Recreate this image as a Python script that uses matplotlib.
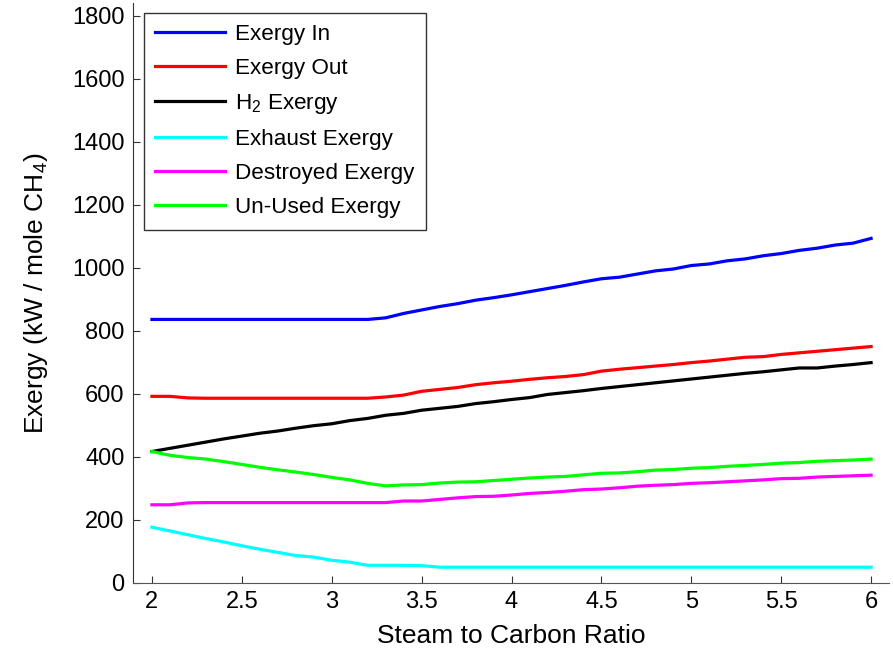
import numpy as np
import matplotlib
matplotlib.use("Agg")
import matplotlib.pyplot as plt

plt.rcParams['font.family'] = ['Liberation Sans', 'DejaVu Sans']
plt.rcParams['mathtext.fontset'] = 'custom'
plt.rcParams['mathtext.rm'] = 'Liberation Sans'
plt.rcParams['mathtext.it'] = 'Liberation Sans'

# steam to carbon ratio, 2.0 .. 6.0
ratio = [2.0, 2.1, 2.2, 2.3, 2.4, 2.5, 2.6, 2.7, 2.8, 2.9, 3.0,
         3.1, 3.2, 3.3, 3.4, 3.5, 3.6, 3.7, 3.8, 3.9, 4.0,
         4.1, 4.2, 4.3, 4.4, 4.5, 4.6, 4.7, 4.8, 4.9, 5.0,
         5.1, 5.2, 5.3, 5.4, 5.5, 5.6, 5.7, 5.8, 5.9, 6.0]

exergy_in = [836, 836, 836, 836, 836, 836, 836, 836, 836, 836, 836,
             836, 836, 841, 855, 866, 877, 886, 897, 905, 914,
             924, 934, 944, 955, 965, 970, 980, 990, 996, 1007,
             1012, 1022, 1028, 1038, 1045, 1055, 1062, 1072, 1078, 1093]

exergy_out = [592, 592, 587, 586, 586, 586, 586, 586, 586, 586, 586,
              586, 586, 590, 596, 608, 614, 620, 629, 635, 640,
              646, 651, 655, 661, 672, 678, 683, 688, 693, 699,
              704, 710, 716, 718, 725, 730, 735, 740, 745, 750]

h2_exergy = [417, 427, 437, 447, 457, 466, 475, 482, 491, 499, 505,
             515, 522, 532, 538, 548, 554, 560, 569, 575, 582,
             588, 598, 604, 610, 617, 623, 629, 635, 641, 647,
             653, 659, 665, 670, 676, 682, 682, 688, 693, 699]

exhaust = [177, 165, 153, 141, 130, 118, 107, 97, 87, 82, 72,
           66, 56, 56, 56, 55, 50, 50, 50, 50, 50,
           50, 50, 50, 50, 50, 50, 50, 50, 50, 50,
           50, 50, 50, 50, 50, 50, 50, 50, 50, 50]

destroyed = [248, 248, 254, 255, 255, 255, 255, 255, 255, 255, 255,
             255, 255, 255, 260, 260, 265, 270, 274, 275, 279,
             284, 287, 291, 296, 298, 302, 307, 310, 312, 316,
             318, 321, 324, 327, 331, 332, 336, 338, 340, 342]

unused = [417, 405, 398, 393, 385, 376, 367, 359, 352, 344, 335,
          327, 316, 308, 311, 312, 317, 320, 321, 325, 329,
          333, 336, 338, 343, 348, 349, 353, 358, 360, 364,
          366, 370, 373, 376, 380, 382, 386, 388, 390, 393]

fig = plt.figure(figsize=(8.93, 6.51), dpi=100)
ax = fig.add_axes([0.149, 0.1045, 0.8466, 0.891])

lw = 2.3
ax.plot(ratio, exergy_in, color='#0000ff', lw=lw, label='Exergy In')
ax.plot(ratio, exergy_out, color='#ff0000', lw=lw, label='Exergy Out')
ax.plot(ratio, h2_exergy, color='black', lw=lw, label='H$_2$ Exergy')
ax.plot(ratio, exhaust, color='#00ffff', lw=lw, label='Exhaust Exergy')
ax.plot(ratio, destroyed, color='#ff00ff', lw=lw, label='Destroyed Exergy')
ax.plot(ratio, unused, color='#00ff00', lw=lw, label='Un-Used Exergy')

ax.set_xlim(1.895, 6.1)
ax.set_ylim(0, 1840)
ax.set_xticks([2, 2.5, 3, 3.5, 4, 4.5, 5, 5.5, 6])
ax.set_xticklabels(['2', '2.5', '3', '3.5', '4', '4.5', '5', '5.5', '6'])
ax.set_yticks(np.arange(0, 1801, 200))

ax.spines['top'].set_visible(False)
ax.spines['right'].set_visible(False)
ax.spines['left'].set_color('#333333')
ax.spines['bottom'].set_color('#555555')
ax.tick_params(direction='in', length=5, width=0.8, labelsize=17,
               colors='#333333', labelcolor='black', pad=6)

ax.set_xlabel('Steam to Carbon Ratio', fontsize=19, labelpad=8)
ax.set_ylabel('Exergy (kW / mole CH$_4$)', fontsize=19, labelpad=16)

leg = ax.legend(loc='upper left', bbox_to_anchor=(0.0146, 0.983),
                borderaxespad=0, fontsize=16.2, fancybox=False,
                edgecolor='black', handlelength=3.1, handletextpad=0.45,
                labelspacing=0.58, borderpad=0.5)
leg.get_frame().set_linewidth(1.0)

plt.savefig("out.png", dpi=100)
